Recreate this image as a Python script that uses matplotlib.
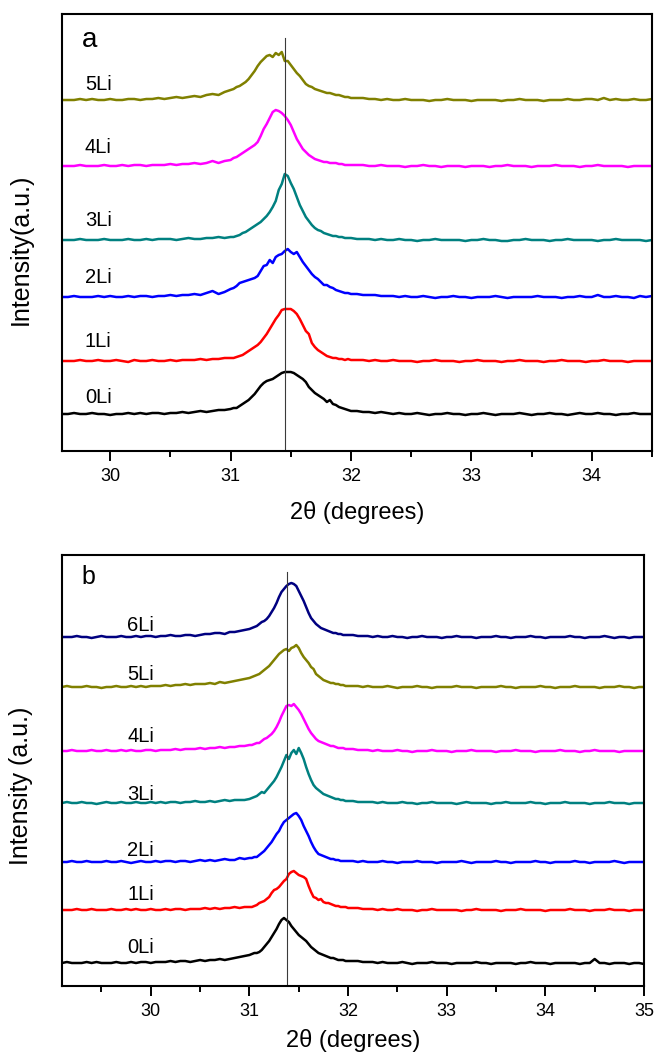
import numpy as np
import matplotlib
matplotlib.use("Agg")
import matplotlib.pyplot as plt
from matplotlib.ticker import MultipleLocator

plt.rcParams['font.family'] = ['Liberation Sans', 'DejaVu Sans']

# ---------------- data ----------------
# sampling positions (2theta, degrees)
x_a = np.concatenate([np.linspace(29.60, 30.95, 28),
                      np.linspace(31.000, 31.975, 40),
                      np.linspace(32.00, 34.50, 51)])
x_b = np.concatenate([np.linspace(29.10, 30.95, 38),
                      np.linspace(31.000, 31.975, 40),
                      np.linspace(32.00, 35.00, 61)])

labels_a = ['0Li', '1Li', '2Li', '3Li', '4Li', '5Li']
labels_b = ['0Li', '1Li', '2Li', '3Li', '4Li', '5Li', '6Li']

colors_a = ['#000000', '#FF0000', '#0000FF', '#008080', '#FF00FF', '#808000']
colors_b = ['#000000', '#FF0000', '#0000FF', '#008080', '#FF00FF', '#808000', '#000080']

# stacking offsets (a.u.)
offsets_a = [37, 90, 154, 211, 285, 351]
offsets_b = [23, 76, 124, 183, 235, 299, 349]

# label heights (a.u.)
label_y_a = [48, 104, 168, 225, 298, 361]
label_y_b = [33, 86, 130, 186, 244, 306, 355]

# reference line positions
ref_a = 31.45
ref_b = 31.38

# ---- panel a intensities (a.u., above each baseline) ----
a_0Li = ([0,0,1,0,0,1,0,0,-1,0, 0,1,0,1,0,1,1,0,1,1, 2,1,2,3,2,3,4,4]
         + [5,6,6,8,10,12,14,17,20,24, 28,31,33,34,35,37,39,41,42,42,
            42,41,39,37,35,32,27,24,21,19, 17,15,12,14,10,9,7,6,5,4]
         + [3,3,2,2,1,2,1,0,1,0, 0,1,0,-1,0,0,1,0,0,-1, 0,0,1,0,-1,0,0,0,1,0,
            -1,0,0,1,0,0,-1,0,1,0, 0,1,0,0,-1,0,0,1,0,0, 0])
a_1Li = ([0,0,0,1,0,0,1,0,0,1, 0,-1,1,0,0,1,0,0,1,0, 1,1,1,2,1,2,2,3]
         + [3,3,4,5,6,8,10,12,14,16, 19,23,27,32,37,42,46,51,52,52,
            52,50,47,42,36,30,27,18,14,11, 9,7,5,4,3,3,2,2,1,2]
         + [1,1,1,0,1,0,0,1,0,0, 0,-1,0,0,1,0,0,0,-1,0, 0,1,0,0,0,-1,0,0,1,0,
            0,0,-1,0,0,1,0,0,0,-1, 0,0,1,0,0,0,-1,0,0,0, 0])
a_2Li = ([0,0,1,0,0,0,1,0,1,0, 0,1,0,1,1,0,1,1,2,1, 2,2,3,2,4,6,3,5]
         + [8,9,11,14,15,16,17,18,19,21, 26,31,32,37,34,40,42,43,46,48,
            45,43,45,40,35,31,27,23,20,18, 15,12,12,10,9,7,6,5,4,4]
         + [3,3,2,2,2,1,1,1,0,1, 0,0,1,0,-1,0,0,1,0,0, -1,0,0,0,1,0,-1,0,0,0,
            0,1,0,0,0,-1,0,0,1,0, 0,2,0,0,1,0,0,-1,1,0, 1])
a_3Li = ([0,0,0,1,0,0,0,1,0,0, 0,1,0,0,1,0,1,1,1,0, 1,2,1,1,2,2,3,2]
         + [3,3,4,5,7,8,10,12,14,16, 18,21,24,28,33,39,50,56,66,64,
            57,51,43,35,29,23,19,15,12,10, 9,7,6,5,4,4,3,3,2,2]
         + [2,1,1,1,0,1,0,0,1,0, 0,-1,0,0,1,0,0,0,0,-1, 0,0,1,0,0,-1,-1,0,0,1,
            0,0,0,-1,0,0,1,0,0,0, 0,-1,0,0,1,0,0,0,0,-1, 0])
a_4Li = ([0,0,0,1,0,0,0,1,0,0, 1,0,1,1,0,1,1,1,2,1, 2,2,3,2,3,5,3,5]
         + [6,8,9,11,13,15,17,19,21,24, 30,37,42,48,54,56,55,53,50,46,
            41,34,27,22,17,14,11,9,7,6, 5,4,4,3,3,3,2,2,1,1]
         + [1,1,1,0,0,1,0,0,0,-1, 0,0,1,0,0,-1,0,0,0,-1, 0,0,0,-1,0,0,1,0,0,0,
            -1,0,0,0,1,0,0,0,-1,0, 0,1,0,0,0,0,-1,0,0,0, 0])
a_5Li = ([0,0,0,1,0,1,0,0,1,0, 0,1,1,0,1,1,2,1,2,3, 2,3,4,3,5,6,5,8]
         + [10,11,13,14,16,18,21,25,29,34, 38,41,44,45,43,47,45,48,39,39,
            35,31,27,24,20,16,14,13,11,10, 9,8,7,7,6,5,5,4,3,3]
         + [2,2,2,1,1,0,1,0,0,1, 0,0,0,-1,0,0,1,0,0,0, -1,0,0,0,0,-1,0,0,1,0,
            0,0,-1,0,0,0,1,0,0,1, 1,0,2,0,1,0,0,1,0,0, 1])

# ---- panel b intensities ----
b_0Li = ([0,1,0,0,0,1,0,1,0,0, 0,1,0,0,1,0,1,1,0,1, 1,1,2,1,2,2,1,2,3,2, 3,3,4,3,4,5,6,7]
         + [8,9,10,10,11,13,16,19,22,26, 30,34,39,43,45,43,41,37,34,31,
            28,26,24,22,19,16,14,12,10,9, 8,7,6,5,5,4,3,3,3,2]
         + [2,2,2,1,1,1,0,1,0,0, 0,1,0,-1,0,0,0,1,0,0, 0,-1,0,0,0,0,1,0,0,-1,
            0,0,0,0,-1,0,0,1,0,0, 0,-1,0,0,0,0,0,-1,0,0, 4,0,0,-1,0,0,0,-1,0,0, -1])
b_1Li = ([0,0,0,1,0,0,1,0,0,0, 1,0,0,1,0,1,0,0,1,0, 0,1,0,1,1,0,1,1,1,2, 1,2,1,2,2,3,2,3]
         + [3,3,4,5,7,8,9,11,13,17, 20,21,23,26,29,31,36,38,39,37,
            35,34,33,31,24,18,13,12,10,11, 8,7,7,6,5,4,4,3,3,3]
         + [2,2,2,1,1,1,0,1,0,0, 1,0,0,0,-1,0,0,1,0,0, 0,0,0,-1,0,0,1,0,0,0,
            0,-1,0,0,0,1,0,0,0,0, -1,0,0,0,0,1,0,0,0,-1, 0,0,0,1,0,0,0,-1,0,0, 0])
b_2Li = ([0,0,1,0,0,1,0,0,0,1, 0,0,1,0,-1,0,1,0,0,1, 0,1,1,0,1,1,0,1,2,1, 2,1,2,3,2,2,4,3]
         + [4,4,5,5,7,9,11,14,17,20, 24,28,31,36,40,42,44,46,48,49,
            46,42,36,31,26,20,15,11,8,7, 6,5,4,3,3,2,2,1,1,1]
         + [1,1,0,1,0,0,0,1,0,0, -1,0,0,0,1,0,0,0,-1,0, 0,0,0,1,0,-1,0,0,0,0,
            1,0,0,-1,0,0,0,0,1,0, 0,-1,0,0,0,0,1,0,0,-1, 0,0,0,0,1,0,-1,0,0,0, 0])
b_3Li = ([0,1,0,0,1,0,0,-1,0,1, 0,0,1,0,0,1,0,0,1,0, 1,0,1,1,0,1,1,2,1,1, 2,1,2,3,2,3,3,3]
         + [4,5,6,7,9,11,10,13,16,19, 22,26,31,36,42,48,44,50,53,49,
            55,50,44,36,29,23,18,15,13,11, 9,8,7,6,5,4,4,3,3,2]
         + [2,2,1,1,1,1,0,1,0,0, 0,1,0,0,-1,0,0,1,0,0, 0,0,-1,0,1,0,0,0,0,-1,
            0,0,1,0,0,0,0,1,0,0, -1,0,0,0,1,0,0,0,0,-1, 0,0,0,1,0,0,0,-1,0,0, 0])
b_4Li = ([0,0,1,0,0,0,1,0,0,1, 0,0,1,0,1,0,0,1,1,0, 1,1,1,2,1,2,2,2,3,2, 3,3,4,3,4,4,5,5]
         + [6,6,7,8,8,10,12,13,15,17, 20,24,29,35,40,45,46,45,47,44,
            41,37,32,27,22,18,15,12,10,9, 8,7,6,5,5,4,3,3,3,2]
         + [2,2,1,1,1,0,1,0,0,0, 1,0,0,-1,0,0,0,1,0,0, 0,-1,0,0,0,1,0,0,0,0,
            -1,0,0,0,1,0,0,0,-1,0, 0,0,0,1,0,0,0,-1,0,0, 1,0,0,0,0,-1,0,0,0,0, 0])
b_5Li = ([0,1,0,0,0,1,0,0,-1,0, 0,1,0,0,1,0,1,0,1,1, 1,2,1,2,2,3,2,3,3,3, 4,3,5,4,5,6,7,8]
         + [9,10,11,12,13,15,17,19,21,24, 27,30,33,35,37,38,36,39,40,42,
            39,34,30,27,24,20,18,13,11,9, 7,6,5,4,4,3,3,2,2,1]
         + [1,1,1,0,1,0,0,0,1,0, -1,0,0,0,1,0,0,-1,0,0, 0,0,1,0,0,0,-1,0,0,0,
            0,1,0,0,-1,0,0,0,0,1, 0,0,-1,0,0,0,1,0,0,0, 0,-1,0,0,0,1,0,0,-1,0, 0])
b_6Li = ([0,0,0,1,0,0,-1,0,1,0, 0,0,1,0,0,1,0,1,1,0, 1,1,2,1,1,2,2,1,2,3, 3,4,4,3,5,5,6,7]
         + [8,9,10,11,13,15,16,18,21,25, 29,34,40,45,48,51,53,54,53,51,
            46,41,36,30,24,19,16,13,11,9, 8,7,6,5,4,4,3,3,2,2]
         + [2,2,1,1,1,0,1,0,0,1, 0,0,-1,0,0,1,0,0,0,-1, 0,0,1,0,0,0,-1,0,0,0,
            1,0,0,-1,0,0,0,1,0,0, -1,0,0,0,0,1,0,0,-1,0, 0,0,1,0,-1,0,0,-1,0,0, 0])

series_a = [a_0Li, a_1Li, a_2Li, a_3Li, a_4Li, a_5Li]
series_b = [b_0Li, b_1Li, b_2Li, b_3Li, b_4Li, b_5Li, b_6Li]

# ---------------- figure ----------------
W, H = 654, 1055
fig = plt.figure(figsize=(W / 100, H / 100), dpi=100)
axa = fig.add_axes([62 / W, (H - 451) / H, 590 / W, 437 / H])
axb = fig.add_axes([62 / W, (H - 986) / H, 582 / W, 431 / H])


def style(ax, xlim, ylim_top):
    ax.set_xlim(*xlim)
    ax.set_ylim(0, ylim_top)
    ax.set_yticks([])
    for s in ax.spines.values():
        s.set_linewidth(1.5)
    ax.xaxis.set_major_locator(MultipleLocator(1))
    ax.xaxis.set_minor_locator(MultipleLocator(0.5))
    ax.tick_params(axis='x', which='major', direction='out', length=7.5,
                   width=1.4, labelsize=13, pad=5, top=False)
    ax.tick_params(axis='x', which='minor', direction='out', length=4.5,
                   width=1.4, top=False)


style(axa, (29.6, 34.5), 437)
style(axb, (29.1, 35.0), 431)

for y, off, col, lab, ly in zip(series_a, offsets_a, colors_a, labels_a, label_y_a):
    axa.plot(x_a, np.asarray(y) + off, color=col, lw=1.8)
    axa.text(29.79, ly, lab, fontsize=14.5, ha='left', va='baseline')
for y, off, col, lab, ly in zip(series_b, offsets_b, colors_b, labels_b, label_y_b):
    axb.plot(x_b, np.asarray(y) + off, color=col, lw=1.8)
    axb.text(29.76, ly, lab, fontsize=14.5, ha='left', va='baseline')

axa.axvline(ref_a, ymin=0, ymax=413 / 437, color='#3a3a3a', lw=0.8)
axb.axvline(ref_b, ymin=0, ymax=414 / 431, color='#3a3a3a', lw=0.8)

axa.text(0.033, 0.9245, 'a', transform=axa.transAxes, fontsize=20,
         ha='left', va='baseline')
axb.text(0.034, 0.9327, 'b', transform=axb.transAxes, fontsize=18,
         ha='left', va='baseline')

axa.set_xlabel('2θ (degrees)', fontsize=17)
axa.xaxis.set_label_coords(0.5, -(501 - 451) / 437)
axb.set_xlabel('2θ (degrees)', fontsize=17)
axb.xaxis.set_label_coords(0.5, -(1029 - 986) / 431)

axa.set_ylabel('Intensity(a.u.)', fontsize=18)
axa.yaxis.set_label_coords(-(62 - 33) / 590, 0.462)
axb.set_ylabel('Intensity (a.u.)', fontsize=18)
axb.yaxis.set_label_coords(-(62 - 33) / 582, 0.464)

fig.savefig('out.png', dpi=100)
